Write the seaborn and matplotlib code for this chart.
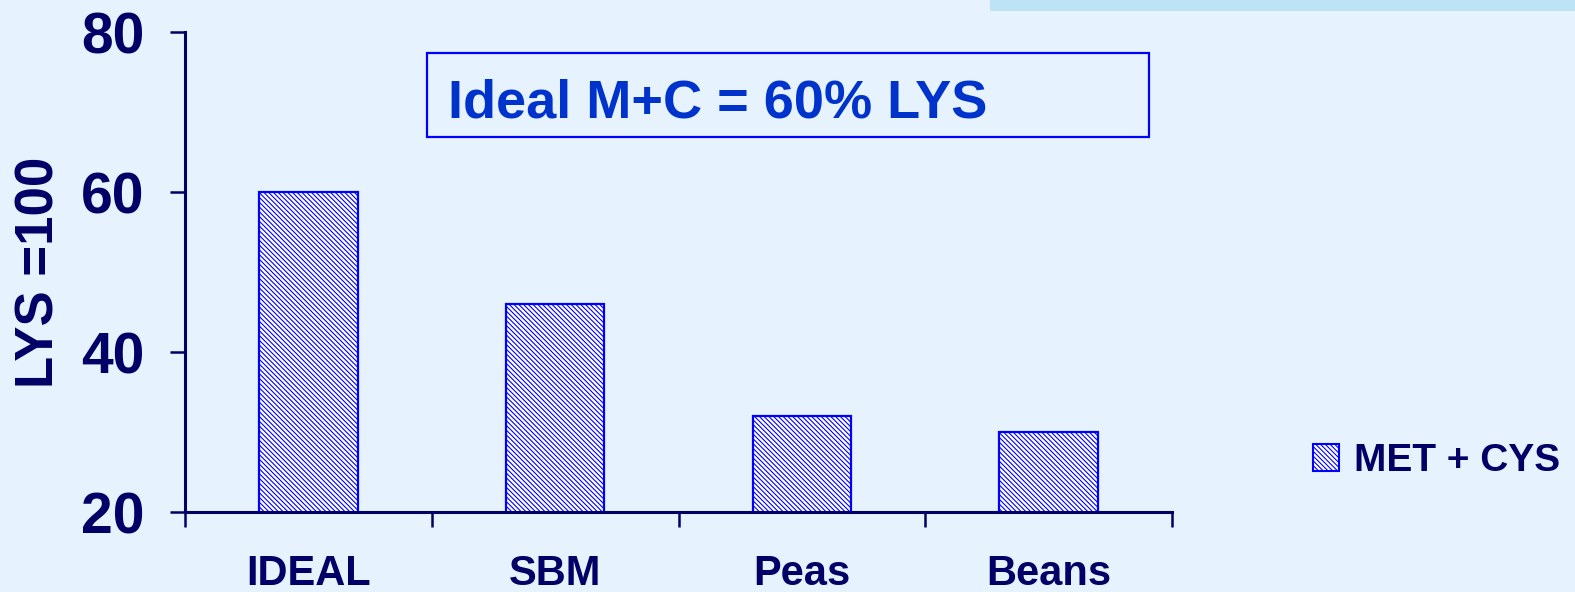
import matplotlib
matplotlib.use("Agg")
import matplotlib.pyplot as plt
from matplotlib.patches import Rectangle, Patch
import seaborn as sns
import pandas as pd

categories = ["IDEAL", "SBM", "Peas", "Beans"]
met_cys = [60, 46, 32, 30]
series_name = "MET + CYS"
y_ticks = [20, 40, 60, 80]
y_label = "LYS =100"
note_text = "Ideal M+C = 60% LYS"

BG = "#E6F3FE"
NAVY = "#000066"
BLUE = "#0000FF"
HATCH = "\\\\\\\\\\\\\\"

sns.set_theme(style="white")
plt.rcParams["font.family"] = ["Liberation Sans", "DejaVu Sans"]
plt.rcParams["font.weight"] = "bold"
plt.rcParams["hatch.linewidth"] = 0.8

df = pd.DataFrame({"cat": categories, "val": met_cys})

W, H = 1575, 592
fig = plt.figure(figsize=(W / 100, H / 100), dpi=100, facecolor=BG)
ax = fig.add_axes([185 / W, 1 - 512 / H, (1172 - 185) / W, (512 - 32) / H])
ax.set_facecolor(BG)

# top decorative band
fig.add_artist(Rectangle((990 / W, 1 - 11 / H), 585 / W, 11 / H, transform=fig.transFigure,
                         facecolor="#BDE4F6", edgecolor="none"))

sns.barplot(data=df, x="cat", y="val", ax=ax, width=0.4, color="white",
            edgecolor=BLUE, linewidth=1.6, hatch=HATCH, saturation=1)

ax.set_ylim(20, 80)
ax.set_xlim(-0.5, len(categories) - 0.5)
ax.set_yticks(y_ticks)
ax.set_yticklabels([str(t) for t in y_ticks], fontsize=41, fontweight="bold", color=NAVY)
ax.tick_params(axis="y", length=11, width=1.8, color=NAVY, pad=18, direction="out", left=True)

ax.set_xticks(range(len(categories)))
ax.set_xticklabels(categories, fontsize=30, fontweight="bold", color=NAVY)
ax.tick_params(axis="x", which="major", length=0, pad=30, bottom=True)
ax.set_xticks([i - 0.5 for i in range(len(categories) + 1)], minor=True)
ax.tick_params(axis="x", which="minor", length=11, width=1.8, color=NAVY, direction="out", bottom=True)

ax.set_xlabel("")
ax.set_ylabel(y_label, fontsize=38, fontweight="bold", color=NAVY, labelpad=12)

for side in ["top", "right"]:
    ax.spines[side].set_visible(False)
for side in ["left", "bottom"]:
    ax.spines[side].set_color(NAVY)
    ax.spines[side].set_linewidth(2.2)

# note box
fig.add_artist(Rectangle((427 / W, 1 - 137 / H), 722 / W, 84 / H, transform=fig.transFigure,
                         fill=False, edgecolor=BLUE, linewidth=1.6))
fig.text(448 / W, 1 - 98 / H, note_text, fontsize=39, fontweight="bold", color="#0033CC",
         ha="left", va="center_baseline")

handle = Patch(facecolor="white", edgecolor=BLUE, hatch=HATCH, linewidth=1.5, label=series_name)
fig.legend(handles=[handle], loc="center left", bbox_to_anchor=(1313 / W, 1 - 461 / H),
           frameon=False, handlelength=0.68, handleheight=0.68,
           handletextpad=0.38, borderpad=0, borderaxespad=0,
           prop={"weight": "bold", "size": 28},
           labelcolor=NAVY)

fig.savefig("out.png", dpi=100, facecolor=BG)
